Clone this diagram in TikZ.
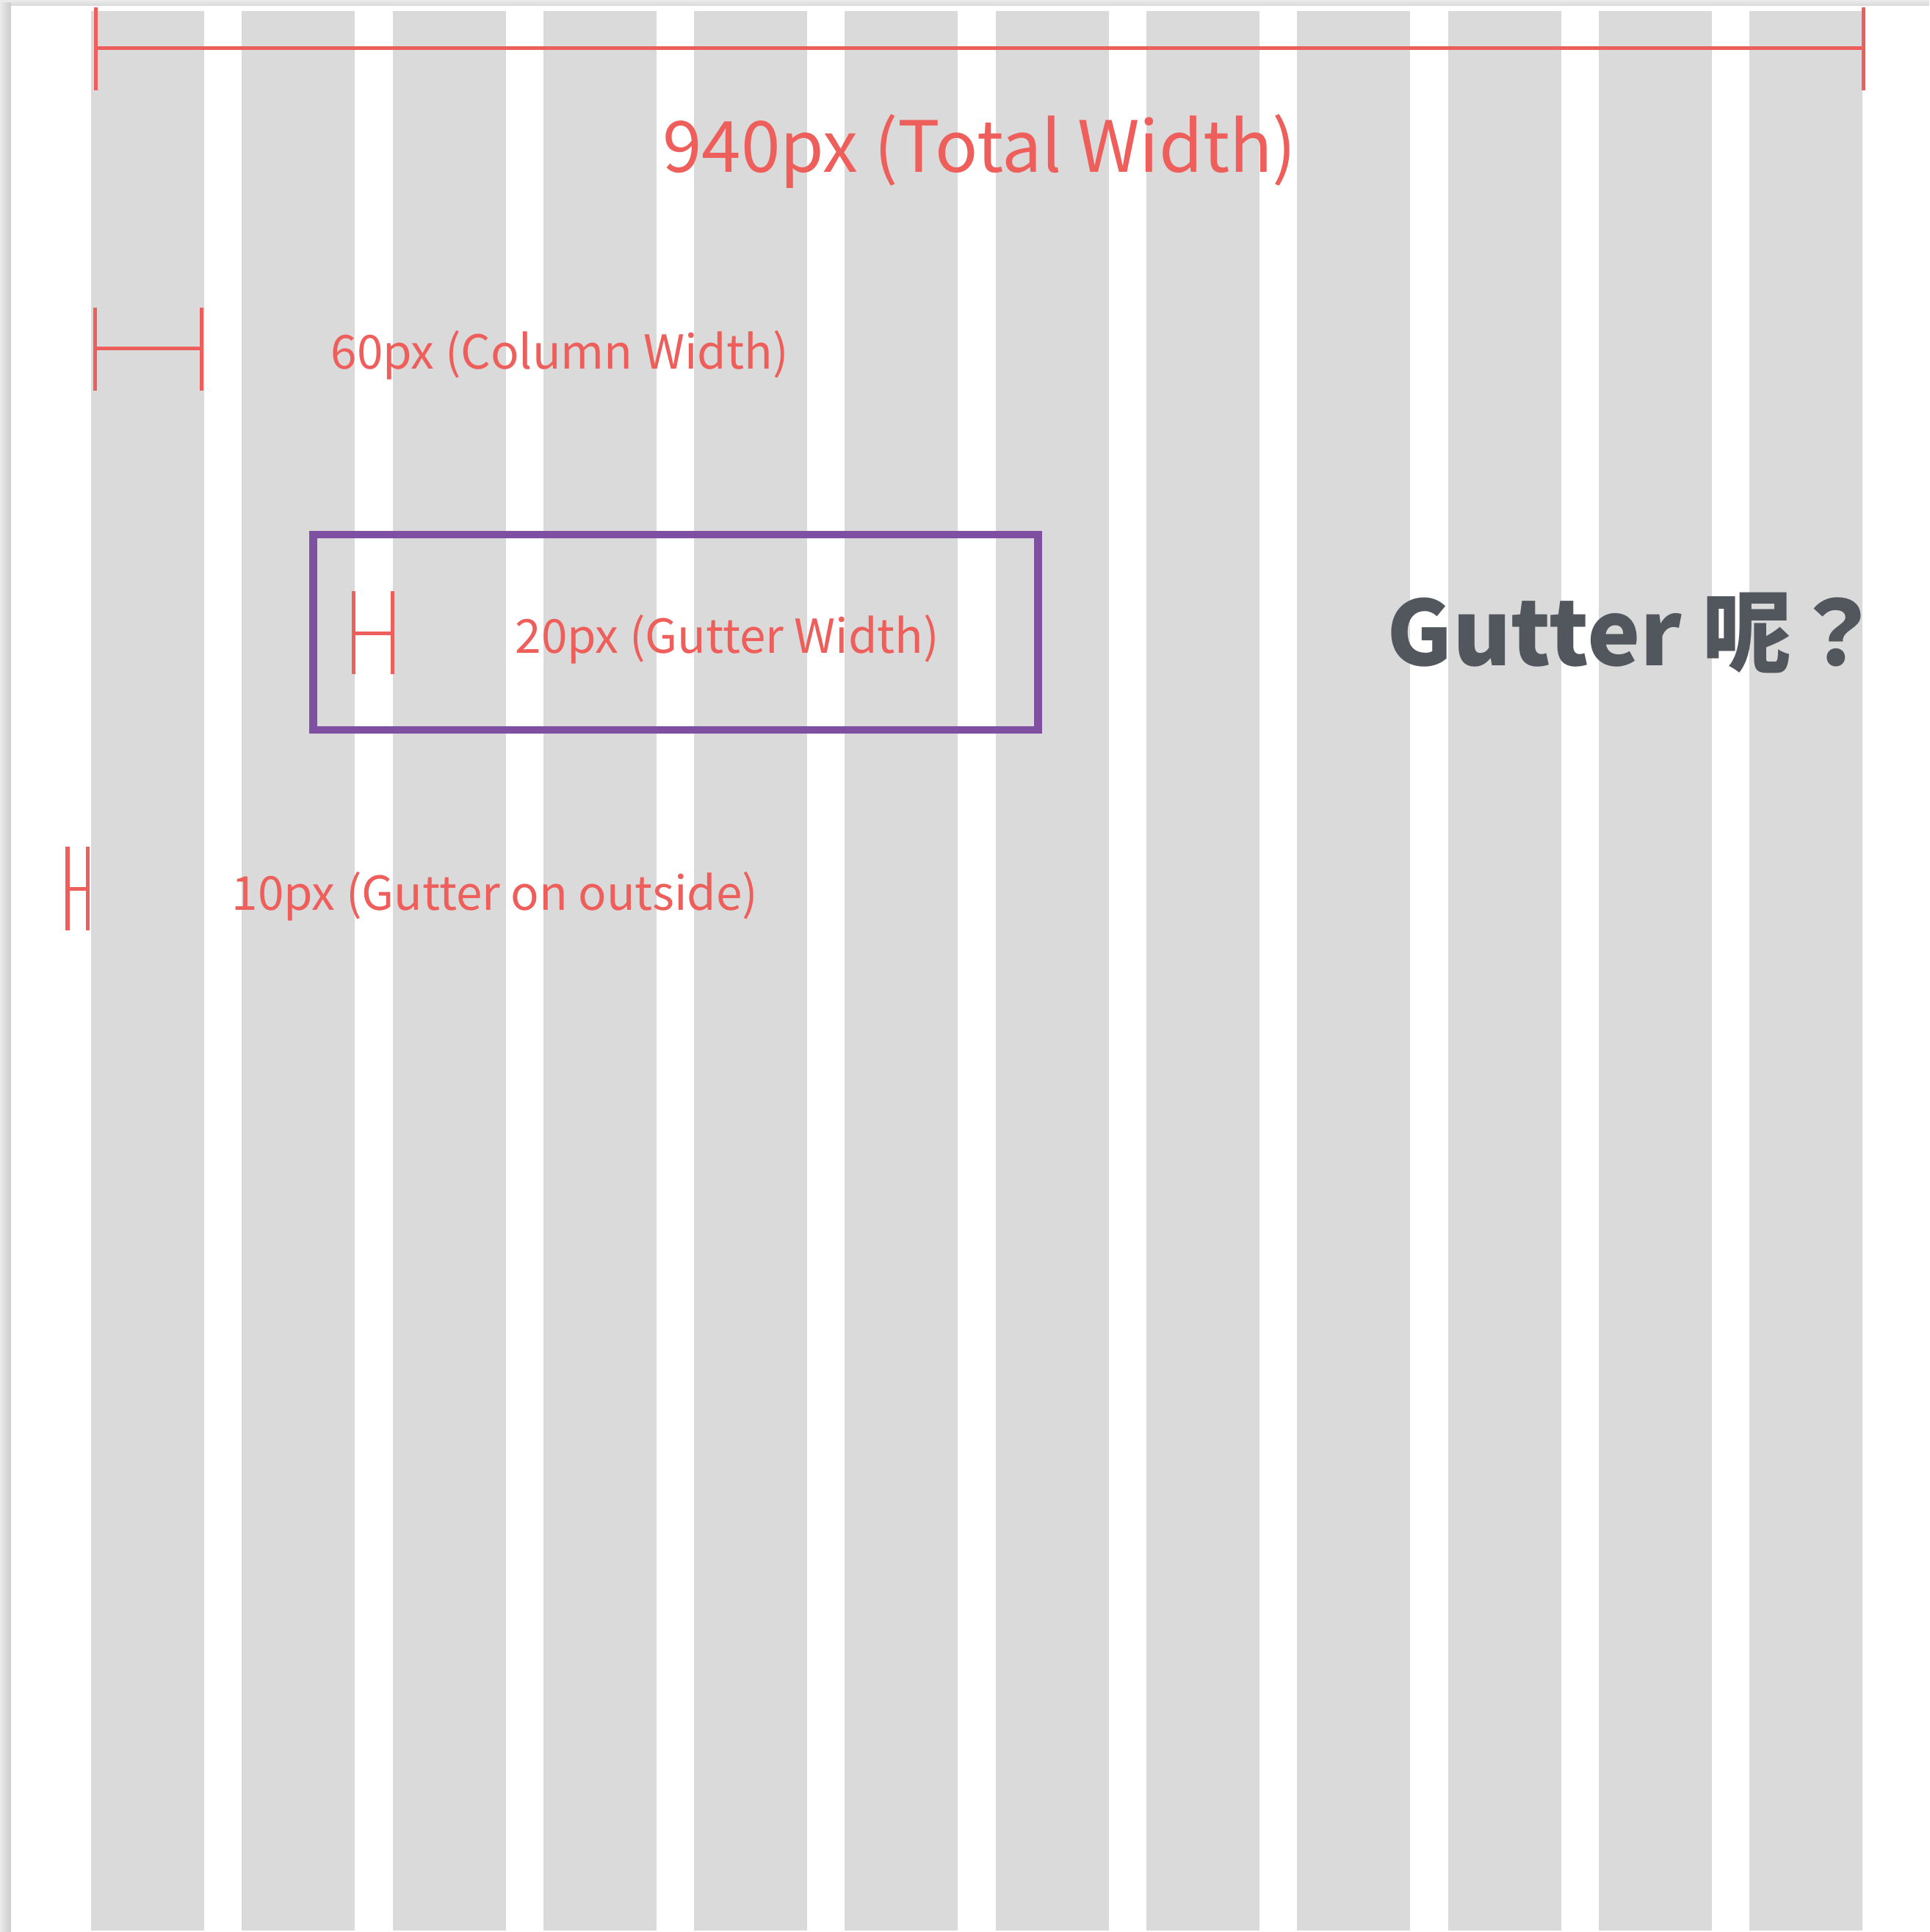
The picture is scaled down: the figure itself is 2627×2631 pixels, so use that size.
\documentclass[tikz,border=0pt]{standalone}
\usepackage{fontspec}
\setmainfont{Noto Sans CJK SC}
\newfontfamily\askfont{Noto Sans CJK JP}
\usepackage{tikz}
\definecolor{edgegray}{gray}{0.92}
\definecolor{shadowgray}{gray}{0.80}
\definecolor{colgray}{RGB}{218,218,218}
\definecolor{measred}{RGB}{238,95,91}
\definecolor{boxpurple}{RGB}{127,79,161}
\definecolor{asktext}{RGB}{82,87,94}
\tikzset{
  dimline/.style={draw=measred,line width=0.05cm},
  colbar/.style={fill=colgray},
  bigdim/.style={font=\fontsize{27.4}{32}\selectfont,text=measred,inner sep=0pt,anchor=base},
  dimlab/.style={font=\fontsize{18.15}{22}\selectfont,text=measred,inner sep=0pt,anchor=base west},
  asklab/.style={font=\askfont\fontsize{34.7}{40}\selectfont\bfseries,text=asktext,inner sep=0pt,anchor=base west},
}

\begin{document}
\begin{tikzpicture}[x=0.01cm,y=-0.01cm]
  \useasboundingbox (0,0) rectangle (2627,2631);
  \fill[edgegray] (0,0) rectangle (2627,2631);
  \shade[left color=edgegray,right color=shadowgray] (0,4) rectangle (15,2631);
  \shade[top color=edgegray,bottom color=shadowgray!60!edgegray] (15,0) rectangle (2627,8);
  \fill[white] (15,8) rectangle (2627,2631);
  \fill[colbar] (124,15) rectangle (278,2629);
  \fill[colbar] (329.3,15) rectangle (483.3,2629);
  \fill[colbar] (534.5,15) rectangle (688.5,2629);
  \fill[colbar] (739.8,15) rectangle (893.8,2629);
  \fill[colbar] (945.1,15) rectangle (1099.1,2629);
  \fill[colbar] (1150.4,15) rectangle (1304.4,2629);
  \fill[colbar] (1355.6,15) rectangle (1509.6,2629);
  \fill[colbar] (1560.9,15) rectangle (1714.9,2629);
  \fill[colbar] (1766.2,15) rectangle (1920.2,2629);
  \fill[colbar] (1971.5,15) rectangle (2125.5,2629);
  \fill[colbar] (2176.7,15) rectangle (2330.7,2629);
  \fill[colbar] (2382,15) rectangle (2536,2629);
  \coordinate (total-l) at (130,66);
  \coordinate (total-r) at (2537.5,66);
  \draw[dimline] (total-l) -- (total-r);
  \draw[dimline] (total-l) ++(0,-56) -- ++(0,113);
  \draw[dimline] (total-r) ++(0,-56) -- ++(0,113);
  \node[bigdim] (totallab) at (1334,235) {940px (Total Width)};
  \coordinate (col-l) at (129.5,475);
  \coordinate (col-r) at (274.5,475);
  \draw[dimline] (col-l) -- (col-r);
  \draw[dimline] (col-l) ++(0,-56) -- ++(0,113);
  \draw[dimline] (col-r) ++(0,-56) -- ++(0,113);
  \node[dimlab] (collab) at (450,503) {60px (Column Width)};
  \draw[draw=boxpurple,line width=0.107cm] (426.5,728) rectangle (1413.5,994);
  \coordinate (gut-l) at (481.5,862);
  \coordinate (gut-r) at (534.5,862);
  \draw[dimline] (gut-l) -- (gut-r);
  \draw[dimline] (gut-l) ++(0,-57) -- ++(0,113);
  \draw[dimline] (gut-r) ++(0,-57) -- ++(0,113);
  \node[dimlab] (gutlab) at (701,889) {20px (Gutter Width)};
  \coordinate (out-l) at (92,1210);
  \coordinate (out-r) at (119.5,1210);
  \draw[dimline] (out-l) -- (out-r);
  \draw[dimline] (out-l) ++(0,-57) -- ++(0,114);
  \draw[dimline] (out-r) ++(0,-57) -- ++(0,114);
  \node[dimlab] (outlab) at (315,1239) {10px (Gutter on outside)};
  \node[asklab] (asklab) at (1888,906) {Gutter 呢？};
\end{tikzpicture}
\end{document}
